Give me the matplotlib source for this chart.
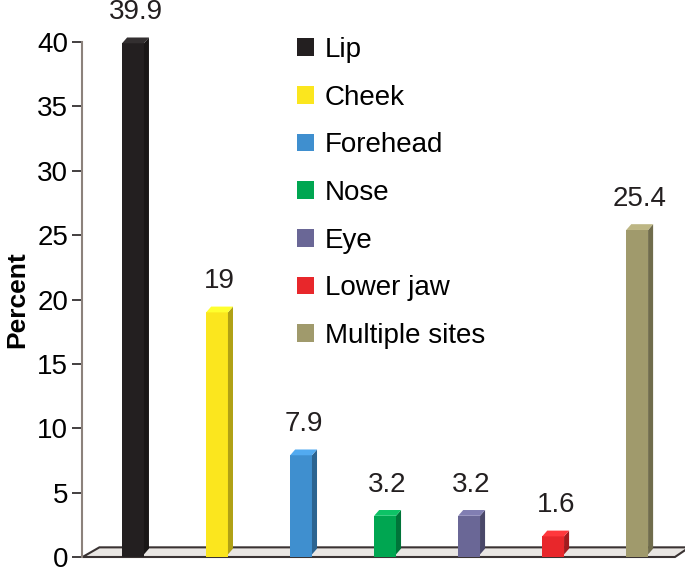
import matplotlib.pyplot as plt
from matplotlib.patches import Polygon, Patch
import matplotlib.colors as mcolors

plt.rcParams['font.family'] = ['Liberation Sans', 'DejaVu Sans']

sites = ['Lip', 'Cheek', 'Forehead', 'Nose', 'Eye', 'Lower jaw', 'Multiple sites']
percent = [39.9, 19, 7.9, 3.2, 3.2, 1.6, 25.4]
labels = ['39.9', '19', '7.9', '3.2', '3.2', '1.6', '25.4']
colors = ['#231f20', '#fbe61e', '#3f8fcf', '#00a651', '#6a6796', '#e8272b', '#a09a6c']

fig = plt.figure(figsize=(6.85, 5.68), dpi=100)
ax = fig.add_axes([82 / 685, 11 / 568, 598 / 685, 515 / 568])

x = list(range(len(sites)))
width = 0.26
dx, dy = 0.06, 0.45  # fake depth

# floor
floor = Polygon([(-0.6, 0), (6.45, 0), (6.62, 0.75), (-0.4, 0.75)], closed=True,
                facecolor='#e9e6e3', edgecolor='#3a3333', lw=1.5, zorder=1, clip_on=False)
ax.add_patch(floor)

bars = ax.bar(x, percent, width=width, color=colors, zorder=3, clip_on=False)
for b, c in zip(bars, colors):
    x0 = b.get_x()
    x1 = x0 + b.get_width()
    h = b.get_height()
    dark = tuple(v * 0.7 for v in mcolors.to_rgb(c))
    light = tuple(min(1, v * 1.1 + 0.05) for v in mcolors.to_rgb(c))
    side = Polygon([(x1, 0.2), (x1 + dx, 0.2 + dy), (x1 + dx, h + dy), (x1, h)],
                   closed=True, facecolor=dark, edgecolor='none', zorder=3, clip_on=False)
    top = Polygon([(x0, h), (x0 + dx, h + dy), (x1 + dx, h + dy), (x1, h)],
                  closed=True, facecolor=light, edgecolor='none', zorder=3, clip_on=False)
    ax.add_patch(side)
    ax.add_patch(top)

for xi, v, t in zip(x, percent, labels):
    ax.annotate(t, (xi + dx / 2, v), xytext=(0, 13), textcoords='offset points',
                ha='center', va='bottom', fontsize=20, color='#231f20')

ax.set_xlim(-0.607, 6.51)
ax.set_ylim(0, 40)
ax.set_yticks(range(0, 41, 5))
ax.set_xticks([])
ax.tick_params(axis='y', labelsize=20, length=7, width=1.2, color='#231f20', pad=3)
for s in ['top', 'right', 'bottom']:
    ax.spines[s].set_visible(False)
ax.spines['left'].set_color('#8c827c')
ax.spines['left'].set_linewidth(1.5)
ax.set_ylabel('Percent', fontsize=19, fontweight='bold', labelpad=6)

handles = [Patch(facecolor=c, edgecolor='none') for c in colors]
ax.legend(handles, sites, loc='upper left', bbox_to_anchor=(272 / 685, 556 / 568),
          bbox_transform=fig.transFigure, frameon=False, fontsize=20,
          handlelength=0.6, handleheight=0.6, handletextpad=0.4, labelspacing=0.78)

fig.savefig('out.png', dpi=100)
